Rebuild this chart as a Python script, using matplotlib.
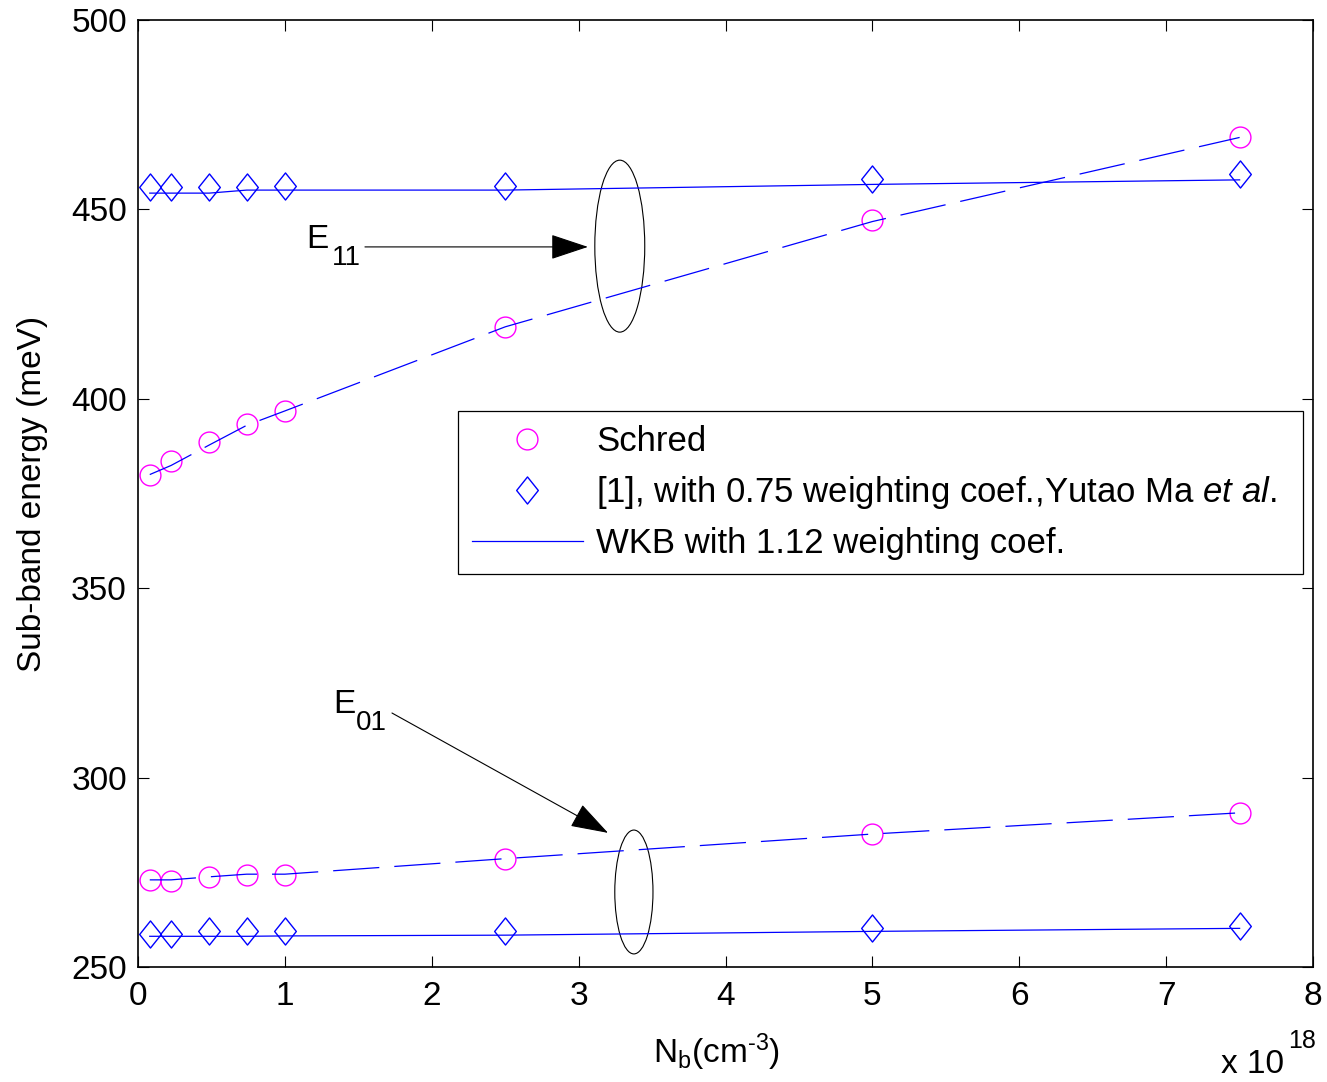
import matplotlib
matplotlib.use("Agg")
import matplotlib.pyplot as plt
from matplotlib.patches import Ellipse
from matplotlib.path import Path

plt.rcParams['font.family'] = ['Liberation Sans', 'DejaVu Sans']
plt.rcParams['mathtext.fontset'] = 'custom'
plt.rcParams['mathtext.rm'] = 'Liberation Sans'
plt.rcParams['mathtext.it'] = 'Liberation Sans:italic'
plt.rcParams['font.size'] = 24

# doping, in units of 1e18 cm^-3
nb = [0.08, 0.225, 0.485, 0.74, 1.0, 2.5, 5.0, 7.5]

# Schred sub-band energies (meV)
schred_e11 = [379.9, 383.6, 388.6, 393.3, 396.8, 419.0, 447.2, 469.1]
schred_e01 = [273.0, 272.8, 273.7, 274.4, 274.4, 278.6, 285.1, 290.6]

# [1] Yutao Ma et al., 0.75 weighting coef.
ma_e11 = [455.8, 455.8, 455.8, 455.8, 456.3, 456.3, 458.0, 459.3]
ma_e01 = [258.8, 258.8, 259.5, 259.5, 259.5, 259.5, 260.3, 260.9]

# WKB, 1.12 weighting coef. (solid)
wkb_e11 = [454.3, 454.3, 454.3, 455.1, 455.1, 455.1, 456.6, 457.8]
wkb_e01 = [258.1, 258.1, 258.1, 258.1, 258.2, 258.4, 259.4, 260.2]

# dashed curves through the Schred points
dash_e11 = [380.0, 382.4, 387.8, 393.0, 396.8, 419.0, 446.8, 469.0]
dash_e01 = [273.0, 273.0, 273.8, 274.5, 274.5, 278.6, 285.1, 290.7]

blue = '#0000ff'
magenta = '#ff00ff'
diamond = Path([(0, 1), (0.8, 0), (0, -1), (-0.8, 0), (0, 1)],
               [Path.MOVETO, Path.LINETO, Path.LINETO, Path.LINETO, Path.CLOSEPOLY])

fig = plt.figure(figsize=(13.27, 10.82), dpi=100)
ax = fig.add_axes([0.104, 0.1063, 0.8855, 0.8752])

ax.plot(nb, schred_e11, 'o', ms=15, mfc='none', mec=magenta, mew=1.0, label='Schred')
ax.plot(nb, schred_e01, 'o', ms=15, mfc='none', mec=magenta, mew=1.0)
ax.plot(nb, ma_e11, linestyle='none', marker=diamond, ms=19.5, mfc='none', mec=blue, mew=1.0,
        label=r'[1], with 0.75 weighting coef.,Yutao Ma $\mathit{et\ al.}$')
ax.plot(nb, ma_e01, linestyle='none', marker=diamond, ms=19.5, mfc='none', mec=blue, mew=1.0)
ax.plot(nb, wkb_e11, '-', color=blue, lw=0.9, label='WKB with 1.12 weighting coef.')
ax.plot(nb, wkb_e01, '-', color=blue, lw=0.9)
ax.plot(nb, dash_e11, color=blue, lw=0.9, dashes=(37, 12))
ax.plot(nb, dash_e01, color=blue, lw=0.9, dashes=(37, 12))

ax.set_xlim(0, 8)
ax.set_ylim(250, 500)
ax.set_xticks(range(0, 9))
ax.set_yticks(range(250, 501, 50))
ax.tick_params(direction='in', length=8, width=0.8, top=True, right=True, labelsize=24)
ax.tick_params(axis='x', pad=10)
ax.tick_params(axis='y', pad=8)
for sp in ax.spines.values():
    sp.set_linewidth(1.2)

ax.set_xlabel('N$_\\mathrm{b}$(cm$^{\\mathrm{\u2010}\\mathrm{3}}$)', fontsize=24, labelpad=16)
ax.xaxis.set_label_coords(0.492, -0.068)
ax.set_ylabel('Sub-band energy (meV)', fontsize=24, labelpad=17)
fig.text(0.920, 0.0085, 'x 10', fontsize=24, va='baseline')
fig.text(0.9705, 0.031, '18', fontsize=18, va='baseline')

# ellipses marking the sub-band groups
ax.add_patch(Ellipse((3.28, 440.3), 0.34, 45.4, fill=False, ec='black', lw=0.8))
ax.add_patch(Ellipse((3.376, 269.8), 0.26, 32.7, fill=False, ec='black', lw=0.8))

arrow = dict(arrowstyle='-|>,head_length=2.4,head_width=0.8', mutation_scale=10,
             color='black', lw=0.8, shrinkA=0, shrinkB=0)
ax.annotate('', xy=(3.063, 440.1), xytext=(1.545, 440.1), arrowprops=arrow)
ax.annotate('', xy=(3.2, 285.4), xytext=(1.729, 317.05), arrowprops=arrow)
ax.text(1.144, 439.8, 'E', fontsize=24, va='baseline')
ax.text(1.32, 435.3, '11', fontsize=20, va='baseline')
ax.text(1.327, 317.05, 'E', fontsize=24, va='baseline')
ax.text(1.484, 312.6, '01', fontsize=20, va='baseline')

leg = ax.legend(loc='lower left', bbox_to_anchor=(0.2723, 0.415, 0.7192, 0.173), mode='expand',
                fontsize=25, handlelength=3.2, handletextpad=0.38, labelspacing=0.46,
                borderpad=0.4, borderaxespad=0, fancybox=False, framealpha=1, numpoints=1)
leg.get_frame().set_edgecolor('black')
leg.get_frame().set_linewidth(0.9)

fig.savefig('out.png', dpi=100)
